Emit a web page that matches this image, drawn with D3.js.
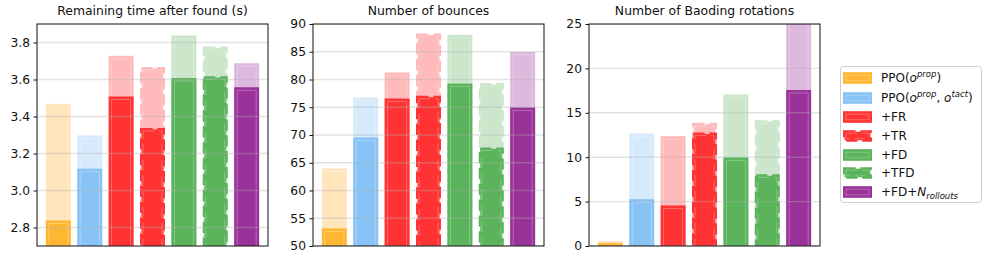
<!DOCTYPE html>
<html><head><meta charset="utf-8">
<script src="https://cdn.jsdelivr.net/npm/d3@7"></script>
<style>body{margin:0;background:#fff}svg{display:block;font-family:"DejaVu Sans",sans-serif}</style>
</head><body><svg id="c" width="987" height="259"></svg>
<script>
// ---- data ----
const methods = ["PPO(o^prop)", "PPO(o^prop, o^tact)", "+FR", "+TR", "+FD", "+TFD", "+FD+N_rollouts"];
const dashedFlags = [false, false, false, true, false, true, false];
const darkColors = ["#FFB733", "#88C3F5", "#FF3333", "#FF3333", "#5BB35B", "#5BB35B", "#993399"];
const lightColors = ["#FFE4BC", "#D7EAFC", "#FFBBBB", "#FFBBBB", "#CBE6CB", "#CBE6CB", "#DDBADD"];
const titles = ["Remaining time after found (s)", "Number of bounces", "Number of Baoding rotations"];
const timeMax = [3.46, 3.29, 3.72, 3.66, 3.83, 3.77, 3.68];
const timeMean = [2.83, 3.11, 3.50, 3.33, 3.60, 3.61, 3.55];
const bounceMax = [63.7, 76.5, 81.0, 88.0, 87.8, 79.1, 84.7];
const bounceMean = [52.9, 69.3, 76.3, 76.8, 79.0, 67.5, 74.7];
const rotMax = [0.4, 12.5, 12.2, 13.7, 16.9, 14.0, 26.0];
const rotMean = [0.15, 5.1, 4.4, 12.6, 9.8, 7.9, 17.4];
const timeTicks = [2.8, 3.0, 3.2, 3.4, 3.6, 3.8];
const bounceTicks = [50, 55, 60, 65, 70, 75, 80, 85, 90];
const rotTicks = [0, 5, 10, 15, 20, 25];
const yDomains = [[2.7, 3.9], [50, 90], [0, 25]];

const panels = [
  {title: titles[0], max: timeMax, mean: timeMean, ticks: timeTicks, domain: yDomains[0], fmt: d3.format(".1f")},
  {title: titles[1], max: bounceMax, mean: bounceMean, ticks: bounceTicks, domain: yDomains[1], fmt: d3.format("d")},
  {title: titles[2], max: rotMax, mean: rotMean, ticks: rotTicks, domain: yDomains[2], fmt: d3.format("d")}
];

const svg = d3.select("#c");
const LW = 3, DASH = "11.1,4.8";
const lefts = [37, 313, 589], W = 231, TOP = 24, BOT = 246;
const barW = 0.7;

function drawBar(g, x0, x1, y0, y1, color, dashed) {
  const w = x1 - x0, h = y1 - y0;
  if (!dashed) {
    g.append("rect").attr("x", x0).attr("y", y0).attr("width", w).attr("height", h)
      .attr("fill", color).attr("stroke", color).attr("stroke-width", LW);
  } else {
    g.append("rect").attr("x", x0).attr("y", y0).attr("width", w).attr("height", h).attr("fill", color);
    g.append("rect").attr("x", x0).attr("y", y0).attr("width", w).attr("height", h)
      .attr("fill", "none").attr("stroke", color).attr("stroke-width", LW).attr("stroke-dasharray", DASH);
  }
  const i = LW / 2;
  if (w > 2 * i + 1 && h > 2 * i + 1) {
    g.append("rect").attr("x", x0 + i).attr("y", y0 + i).attr("width", w - 2 * i).attr("height", h - 2 * i)
      .attr("fill", "none").attr("stroke", "#fff").attr("stroke-opacity", 0.3).attr("stroke-width", 0.9)
      .attr("stroke-dasharray", dashed ? DASH : null);
  }
}

panels.forEach((p, pi) => {
  const L = lefts[pi];
  const x = d3.scaleLinear().domain([-0.68, 6.68]).range([L, L + W]);
  const y = d3.scaleLinear().domain(p.domain).range([BOT, TOP]);
  const g = svg.append("g");
  const cid = "clip" + pi;
  svg.append("clipPath").attr("id", cid).append("rect").attr("x", L).attr("y", TOP).attr("width", W).attr("height", BOT - TOP);
  const bars = g.append("g").attr("clip-path", `url(#${cid})`);
  const base = Math.min(0, p.domain[0] - 1);
  methods.forEach((m, i) => {
    const x0 = x(i - barW / 2), x1 = x(i + barW / 2);
    drawBar(bars, x0, x1, y(p.max[i]), y(base), lightColors[i], dashedFlags[i]);
    drawBar(bars, x0, x1, y(p.mean[i]), y(base), darkColors[i], dashedFlags[i]);
  });
  // grid on top
  bars.selectAll(".grid").data(p.ticks).enter().append("line")
    .attr("x1", L).attr("x2", L + W).attr("y1", d => y(d)).attr("y2", d => y(d))
    .attr("stroke", "#b0b0b0").attr("stroke-opacity", 0.35).attr("stroke-width", 1.4);
  // y axis
  const ax = d3.axisLeft(y).tickValues(p.ticks).tickFormat(p.fmt).tickSize(3.5).tickPadding(3.5);
  const ag = g.append("g").attr("transform", `translate(${L},0)`).call(ax);
  ag.select(".domain").remove();
  ag.selectAll("text").attr("font-size", 12.3).attr("fill", "#111").attr("font-family", "DejaVu Sans");
  ag.selectAll("line").attr("stroke", "#111");
  // spines
  g.append("rect").attr("x", L).attr("y", TOP).attr("width", W).attr("height", BOT - TOP)
    .attr("fill", "none").attr("stroke", "#111").attr("stroke-width", 1);
  // title
  g.append("text").attr("x", L + W / 2).attr("y", 15).attr("text-anchor", "middle")
    .attr("font-size", 12.4).attr("fill", "#111").text(p.title);
});

// ---- legend ----
const lg = svg.append("g");
lg.append("rect").attr("x", 840.5).attr("y", 66.5).attr("width", 141).attr("height", 136).attr("rx", 3)
  .attr("fill", "#fff").attr("stroke", "#cfcfcf").attr("stroke-width", 1);
const rowY = [78, 98, 117, 136, 155, 173, 192];
function addLabel(t, label) {
  const fs = 8.5;
  if (label === "PPO(o^prop)") {
    t.append("tspan").text("PPO(");
    t.append("tspan").attr("font-style", "italic").text("o");
    t.append("tspan").attr("font-style", "italic").attr("font-size", fs).attr("dy", -5).text("prop");
    t.append("tspan").attr("dy", 5).text(")");
  } else if (label === "PPO(o^prop, o^tact)") {
    t.append("tspan").text("PPO(");
    t.append("tspan").attr("font-style", "italic").text("o");
    t.append("tspan").attr("font-style", "italic").attr("font-size", fs).attr("dy", -5).text("prop");
    t.append("tspan").attr("dy", 5).text(", ");
    t.append("tspan").attr("font-style", "italic").text("o");
    t.append("tspan").attr("font-style", "italic").attr("font-size", fs).attr("dy", -5).text("tact");
    t.append("tspan").attr("dy", 5).text(")");
  } else if (label === "+FD+N_rollouts") {
    t.append("tspan").text("+FD+");
    t.append("tspan").attr("font-style", "italic").text("N");
    t.append("tspan").attr("font-style", "italic").attr("font-size", fs).attr("dy", 2.5).text("rollouts");
  } else {
    t.text(label);
  }
}
methods.forEach((m, i) => {
  const cy = rowY[i];
  drawBar(lg, 844.5, 870.5, cy - 4.3, cy + 4.3, darkColors[i], dashedFlags[i]);
  const t = lg.append("text").attr("x", 881).attr("y", cy + 4.3).attr("font-size", 12).attr("fill", "#111");
  addLabel(t, m);
});
</script></body></html>
